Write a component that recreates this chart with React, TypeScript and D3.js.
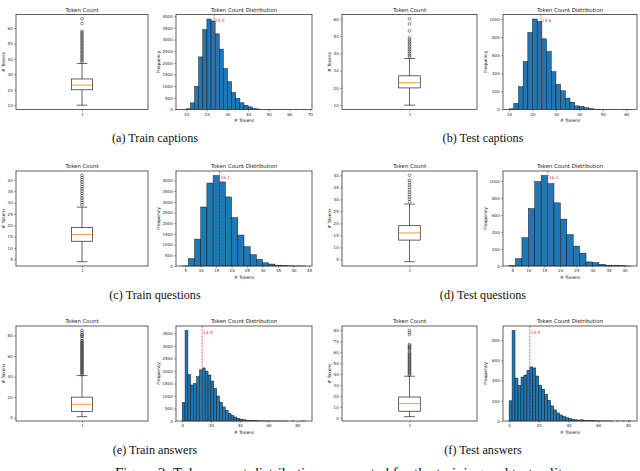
import React, { useEffect, useRef } from "react";
import * as d3 from "d3";

const width = 640;
const height = 471;

// subfigure captions
const captions = [
  "(a) Train captions", "(b) Test captions",
  "(c) Train questions", "(d) Test questions",
  "(e) Train answers", "(f) Test answers",
];
const figureCaption = "Figure 2: Token count distributions computed for the training and test splits.";

// box stats: [lower whisker, q1, median, q3, upper whisker]
const trainCaptionBox = [10, 20, 23, 27, 37];
const testCaptionBox = [10, 20, 23, 27, 37];
const trainQuestionBox = [4, 13, 16, 19, 28];
const testQuestionBox = [4, 13, 16, 19, 28];
const trainAnswerBox = [1, 6, 13, 20, 41];
const testAnswerBox = [1, 6, 13, 19, 38];

// outliers (token counts are integers)
const trainCaptionFliers = [38, 39, 40, 41, 42, 43, 44, 45, 46, 47, 48, 49, 50, 51, 52, 53, 54, 55, 56, 57, 58, 63, 66];
const testCaptionFliers = [38, 39, 40, 41, 42, 43, 44, 45, 46, 47, 48, 49, 53, 57, 60];
const trainQuestionFliers = [29, 30, 31, 32, 33, 34, 35, 36, 37, 38, 39, 40, 41, 42];
const testQuestionFliers = [29, 30, 31, 32, 33, 34, 35, 36, 37, 38, 40];
const trainAnswerFliers = [42, 43, 44, 45, 46, 47, 48, 49, 50, 51, 52, 53, 54, 55, 56, 57, 58, 59, 60, 61, 62, 63, 64, 65, 66, 67, 68, 69, 70, 71, 72, 73, 74, 75, 77, 79, 80, 81, 83, 85];
const testAnswerFliers = [39, 40, 41, 42, 43, 44, 45, 46, 47, 48, 49, 50, 51, 52, 53, 54, 55, 56, 57, 58, 59, 60, 62, 63, 64, 65, 66, 67, 76, 78, 80];

// histogram counts, bins of width 2 starting at binStarts[i]
const binStarts = [8, 10, 4, 4, 0, 0];
const trainCaptionCounts = [2, 30, 285, 1000, 2255, 3430, 3880, 3800, 3245, 2590, 1755, 1190, 730, 475, 288, 185, 112, 45, 20, 10, 6, 4, 3, 2, 1, 1, 0, 1, 0, 1];
const testCaptionCounts = [8, 68, 252, 530, 852, 1000, 972, 781, 641, 419, 278, 207, 126, 81, 40, 35, 20, 10, 4, 3, 2, 1, 1, 0, 1, 1];
const trainQuestionCounts = [5, 340, 1255, 2755, 3875, 4225, 3925, 3225, 2258, 1445, 900, 530, 308, 150, 90, 40, 15, 8, 4, 2];
const testQuestionCounts = [3, 85, 333, 675, 992, 1063, 968, 742, 551, 369, 234, 151, 48, 40, 20, 10, 7, 3, 1];
const trainAnswerCounts = [740, 3615, 1850, 1440, 1500, 1775, 2045, 2120, 1995, 1835, 1595, 1300, 1000, 750, 560, 425, 300, 220, 160, 110, 75, 50, 35, 22, 15, 10, 7, 5, 4, 3, 2, 2, 1, 1, 1, 1, 1, 0, 1, 0, 0, 1, 1];
const testAnswerCounts = [200, 895, 425, 350, 435, 455, 500, 535, 525, 445, 355, 315, 265, 205, 150, 110, 80, 60, 45, 33, 25, 17, 12, 9, 12, 6, 4, 3, 3, 2, 2, 1, 1, 1, 1, 0, 1, 0, 1, 0, 1];

// mean token count shown by the red dashed line
const means = [23.5, 23.6, 16.1, 16.1, 13.9, 13.9];

// tick values
const boxTicks = [
  [10, 20, 30, 40, 50, 60], [10, 20, 30, 40, 50, 60],
  [5, 10, 15, 20, 25, 30, 35, 40], [5, 10, 15, 20, 25, 30, 35, 40],
  [0, 20, 40, 60, 80], [0, 10, 20, 30, 40, 50, 60, 70, 80],
];
const histXTicks = [
  [10, 20, 30, 40, 50, 60, 70], [10, 20, 30, 40, 50, 60],
  [5, 10, 15, 20, 25, 30, 35, 40, 45], [5, 10, 15, 20, 25, 30, 35, 40],
  [0, 20, 40, 60, 80], [0, 20, 40, 60, 80],
];
const histYTicks = [
  [0, 500, 1000, 1500, 2000, 2500, 3000, 3500, 4000], [0, 200, 400, 600, 800, 1000],
  [0, 500, 1000, 1500, 2000, 2500, 3000, 3500, 4000], [0, 200, 400, 600, 800, 1000],
  [0, 500, 1000, 1500, 2000, 2500, 3000, 3500], [0, 200, 400, 600, 800],
];

const boxes = [trainCaptionBox, testCaptionBox, trainQuestionBox, testQuestionBox, trainAnswerBox, testAnswerBox];
const fliers = [trainCaptionFliers, testCaptionFliers, trainQuestionFliers, testQuestionFliers, trainAnswerFliers, testAnswerFliers];
const counts = [trainCaptionCounts, testCaptionCounts, trainQuestionCounts, testQuestionCounts, trainAnswerCounts, testAnswerCounts];

const BIN = 2;
const FONT = "DejaVu Sans, sans-serif";
const SERIF = "Liberation Serif, Times New Roman, serif";

// axes frames for left / right column and the three rows
const columns = [
  { box: [16, 148], hist: [176, 312], caption: 155 },
  { box: [342, 477], hist: [503, 637], caption: 483 },
];
const rows = [
  { top: 14.5, bottom: 109.5, caption: 142 },
  { top: 171, bottom: 266, caption: 298.5 },
  { top: 326, bottom: 421, caption: 453.5 },
];

function styleAxis(ax) {
  ax.select(".domain").remove();
  ax.attr("font-size", 4).attr("font-family", FONT);
  ax.selectAll("line").attr("stroke", "#333").attr("stroke-width", 0.5);
  ax.selectAll("text").attr("fill", "#222");
}

function frame(svg, x0, x1, y0, y1) {
  svg.append("rect")
    .attr("x", x0).attr("y", y0)
    .attr("width", x1 - x0).attr("height", y1 - y0)
    .attr("fill", "none")
    .attr("stroke", "#3a3a3a")
    .attr("stroke-width", 0.8);
}

function drawBox(svg, x0, x1, y0, y1, stats, outliers, ticks) {
  const lo = Math.min(stats[0], d3.min(outliers));
  const hi = Math.max(stats[4], d3.max(outliers));
  const pad = (hi - lo) * 0.05;
  const y = d3.scaleLinear().domain([lo - pad, hi + pad]).range([y1, y0]);
  const x = d3.scaleLinear().domain([0.5, 1.5]).range([x0, x1]);
  const bw = 0.08, cw = 0.04;

  const ya = svg.append("g").attr("transform", `translate(${x0},0)`)
    .call(d3.axisLeft(y).tickValues(ticks).tickSize(1.8).tickPadding(1.5).tickFormat(d3.format("d")));
  styleAxis(ya);
  const xa = svg.append("g").attr("transform", `translate(0,${y1})`)
    .call(d3.axisBottom(x).tickValues([1]).tickSize(1.8).tickPadding(1.5).tickFormat(d3.format("d")));
  styleAxis(xa);

  const g = svg.append("g").attr("stroke", "#222").attr("stroke-width", 0.7).attr("fill", "none");
  // whiskers
  g.append("line").attr("x1", x(1)).attr("x2", x(1)).attr("y1", y(stats[0])).attr("y2", y(stats[1]));
  g.append("line").attr("x1", x(1)).attr("x2", x(1)).attr("y1", y(stats[3])).attr("y2", y(stats[4]));
  // caps
  g.append("line").attr("x1", x(1 - cw)).attr("x2", x(1 + cw)).attr("y1", y(stats[0])).attr("y2", y(stats[0]));
  g.append("line").attr("x1", x(1 - cw)).attr("x2", x(1 + cw)).attr("y1", y(stats[4])).attr("y2", y(stats[4]));
  // box
  g.append("rect")
    .attr("x", x(1 - bw)).attr("y", y(stats[3]))
    .attr("width", x(1 + bw) - x(1 - bw)).attr("height", y(stats[1]) - y(stats[3]));
  // median
  svg.append("line")
    .attr("x1", x(1 - bw)).attr("x2", x(1 + bw))
    .attr("y1", y(stats[2])).attr("y2", y(stats[2]))
    .attr("stroke", "#ff7f0e").attr("stroke-width", 0.8);
  // outliers
  g.selectAll("circle").data(outliers).enter().append("circle")
    .attr("cx", x(1)).attr("cy", (d) => y(d)).attr("r", 1.4).attr("stroke-width", 0.5);

  frame(svg, x0, x1, y0, y1);

  svg.append("text")
    .attr("x", (x0 + x1) / 2).attr("y", y0 - 3)
    .attr("text-anchor", "middle")
    .attr("font-size", 5.4).attr("font-family", FONT).attr("fill", "#222")
    .text("Token Count");
  svg.append("text")
    .attr("transform", `translate(${x0 - 11.5},${(y0 + y1) / 2}) rotate(-90)`)
    .attr("text-anchor", "middle")
    .attr("font-size", 4.4).attr("font-family", FONT).attr("fill", "#222")
    .text("# Tokens");
}

function drawHist(svg, x0, x1, y0, y1, start, data, mean, xTicks, yTicks) {
  const end = start + data.length * BIN;
  const pad = (end - start) * 0.05;
  const x = d3.scaleLinear().domain([start - pad, end + pad]).range([x0, x1]);
  const y = d3.scaleLinear().domain([0, d3.max(data) * 1.05]).range([y1, y0]);

  const ya = svg.append("g").attr("transform", `translate(${x0},0)`)
    .call(d3.axisLeft(y).tickValues(yTicks).tickSize(1.8).tickPadding(1.5).tickFormat(d3.format("d")));
  styleAxis(ya);
  const xa = svg.append("g").attr("transform", `translate(0,${y1})`)
    .call(d3.axisBottom(x).tickValues(xTicks).tickSize(1.8).tickPadding(1.5).tickFormat(d3.format("d")));
  styleAxis(xa);

  svg.append("g").selectAll("rect")
    .data(data.map((c, i) => ({ c, i })).filter((d) => d.c > 0))
    .enter().append("rect")
    .attr("x", (d) => x(start + d.i * BIN))
    .attr("width", (d) => x(start + (d.i + 1) * BIN) - x(start + d.i * BIN))
    .attr("y", (d) => y(d.c))
    .attr("height", (d) => y(0) - y(d.c))
    .attr("fill", "#1f77b4")
    .attr("stroke", "#111")
    .attr("stroke-width", 0.45);

  svg.append("line")
    .attr("x1", x(mean)).attr("x2", x(mean))
    .attr("y1", y0).attr("y2", y1)
    .attr("stroke", "#e8302a").attr("stroke-width", 0.7)
    .attr("stroke-dasharray", "2,1.2");
  svg.append("text")
    .attr("x", x(mean) + 0.8).attr("y", y0 + 7.5)
    .attr("font-size", 4.4).attr("font-family", FONT).attr("fill", "#e8302a")
    .text(mean.toFixed(1));

  frame(svg, x0, x1, y0, y1);

  svg.append("text")
    .attr("x", (x0 + x1) / 2).attr("y", y0 - 3)
    .attr("text-anchor", "middle")
    .attr("font-size", 5.4).attr("font-family", FONT).attr("fill", "#222")
    .text("Token Count Distribution");
  svg.append("text")
    .attr("x", (x0 + x1) / 2).attr("y", y1 + 12.5)
    .attr("text-anchor", "middle")
    .attr("font-size", 4.4).attr("font-family", FONT).attr("fill", "#222")
    .text("# Tokens");
  svg.append("text")
    .attr("transform", `translate(${x0 - 16.5},${(y0 + y1) / 2}) rotate(-90)`)
    .attr("text-anchor", "middle")
    .attr("font-size", 4.4).attr("font-family", FONT).attr("fill", "#222")
    .text("Frequency");
}

export default function App() {
  const ref = useRef(null);

  useEffect(() => {
    const svg = d3.select(ref.current);
    svg.selectAll("*").remove();
    svg.append("rect").attr("width", width).attr("height", height).attr("fill", "white");

    for (let i = 0; i < 6; i++) {
      const col = columns[i % 2];
      const row = rows[Math.floor(i / 2)];
      drawBox(svg, col.box[0], col.box[1], row.top, row.bottom, boxes[i], fliers[i], boxTicks[i]);
      drawHist(svg, col.hist[0], col.hist[1], row.top, row.bottom, binStarts[i], counts[i], means[i], histXTicks[i], histYTicks[i]);
      svg.append("text")
        .attr("x", col.caption).attr("y", row.caption)
        .attr("text-anchor", "middle")
        .attr("font-size", 12.2).attr("font-family", SERIF).attr("fill", "#111")
        .text(captions[i]);
    }

    svg.append("text")
      .attr("x", 115).attr("y", 478)
      .attr("font-size", 15).attr("font-family", SERIF).attr("fill", "#111")
      .text(figureCaption);
  }, []);

  return (
    <svg
      ref={ref}
      width={width}
      height={height}
      style={{ position: "absolute", left: 0, top: 0, display: "block" }}
    />
  );
}
